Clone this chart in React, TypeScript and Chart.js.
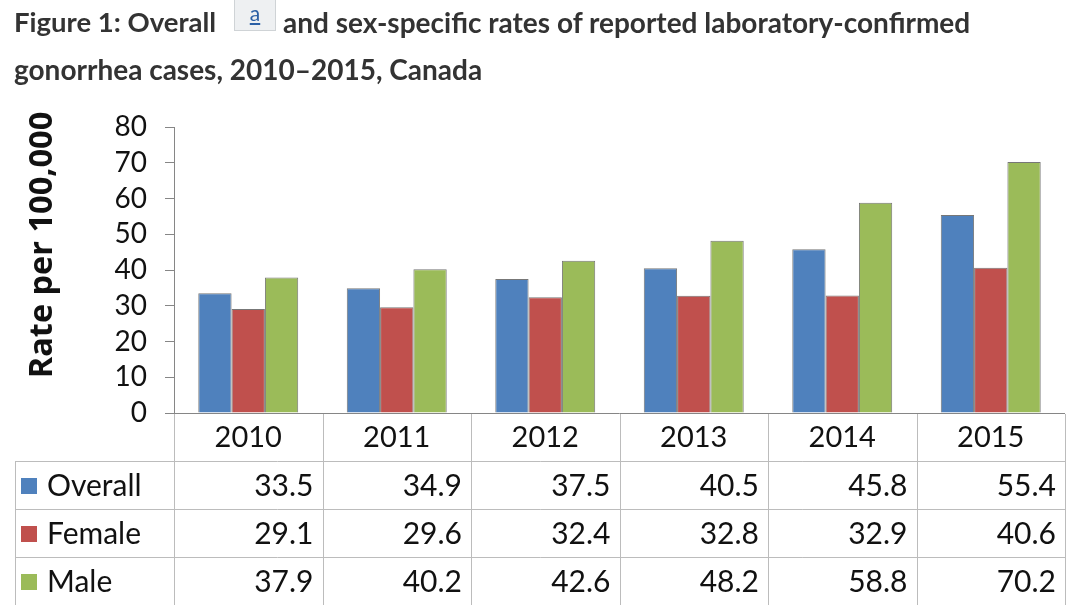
import React, { useEffect, useRef } from "react";
import { Chart, registerables } from "chart.js";

Chart.register(...registerables);

// ---- data ----
const years = ["2010", "2011", "2012", "2013", "2014", "2015"];
const overall = [33.5, 34.9, 37.5, 40.5, 45.8, 55.4];
const female = [29.1, 29.6, 32.4, 32.8, 32.9, 40.6];
const male = [37.9, 40.2, 42.6, 48.2, 58.8, 70.2];
const seriesNames = ["Overall", "Female", "Male"];
const seriesColors = ["#4F81BD", "#C0504D", "#9BBB59"];
const yAxisTitle = "Rate per 100,000";
const yMin = 0;
const yMax = 80;
const yStep = 10;

const TEXT = "#111";
const CHART_FONT = "Lato";

const tablePlugin = {
  id: "dataTable",
  afterDraw(chart: any) {
    const ctx = chart.ctx as CanvasRenderingContext2D;
    const xs = chart.scales.x;
    const area = chart.chartArea;
    const n = years.length;
    const catW = xs.getPixelForValue(1) - xs.getPixelForValue(0);
    const top = area.bottom;
    const rowH = 48;
    const tableLeft = 15;
    const rows = [overall, female, male];
    const tableBottom = top + rowH * (rows.length + 1);

    ctx.save();
    // x axis line
    ctx.strokeStyle = "#868686";
    ctx.lineWidth = 1;
    ctx.beginPath();
    ctx.moveTo(area.left, Math.round(top) + 0.5);
    ctx.lineTo(area.right, Math.round(top) + 0.5);
    ctx.stroke();

    // table lines
    ctx.strokeStyle = "#bcbcbc";
    ctx.beginPath();
    for (let i = 0; i <= n; i++) {
      const bx = Math.round(xs.getPixelForValue(0) - catW / 2 + i * catW) + 0.5;
      ctx.moveTo(bx, Math.round(top) + 1);
      ctx.lineTo(bx, tableBottom);
    }
    for (let r = 1; r <= rows.length; r++) {
      const yy = Math.round(top + r * rowH) + 0.5;
      ctx.moveTo(tableLeft, yy);
      ctx.lineTo(area.right + 0.5, yy);
    }
    ctx.moveTo(tableLeft + 0.5, Math.round(top + rowH));
    ctx.lineTo(tableLeft + 0.5, tableBottom);
    ctx.stroke();

    // header labels
    ctx.fillStyle = TEXT;
    ctx.font = `29px ${CHART_FONT}`;
    ctx.textBaseline = "middle";
    ctx.textAlign = "center";
    for (let i = 0; i < n; i++) {
      ctx.fillText(years[i], xs.getPixelForValue(i), top + rowH / 2 + 1);
    }

    // rows
    ctx.font = `30px ${CHART_FONT}`;
    for (let r = 0; r < rows.length; r++) {
      const cy = top + rowH * (r + 1) + rowH / 2 + 1;
      ctx.fillStyle = seriesColors[r];
      ctx.fillRect(21, Math.round(cy - 8), 16, 16);
      ctx.fillStyle = TEXT;
      ctx.textAlign = "left";
      ctx.fillText(seriesNames[r], 47, cy);
      ctx.textAlign = "right";
      for (let i = 0; i < n; i++) {
        const right = xs.getPixelForValue(i) + catW / 2 - 9;
        ctx.fillText(rows[r][i].toFixed(1), right, cy);
      }
    }

    // y axis title
    ctx.save();
    ctx.translate(43, 245);
    ctx.rotate(-Math.PI / 2);
    ctx.font = `bold 32.5px 'Open Sans'`;
    ctx.textAlign = "center";
    ctx.textBaseline = "middle";
    ctx.fillStyle = TEXT;
    ctx.fillText(yAxisTitle, 0, 0);
    ctx.restore();

    ctx.restore();
  },
};

export default function App() {
  const ref = useRef<HTMLCanvasElement | null>(null);

  useEffect(() => {
    if (!ref.current) return;
    const chart = new Chart(ref.current, {
      type: "bar",
      data: {
        labels: years,
        datasets: [overall, female, male].map((d, i) => ({
          label: seriesNames[i],
          data: d,
          backgroundColor: seriesColors[i],
          borderColor: "#777",
          borderWidth: 1,
          categoryPercentage: 0.673,
          barPercentage: 1,
        })),
      },
      options: {
        animation: false,
        responsive: false,
        devicePixelRatio: 1,
        layout: { padding: { top: 127, bottom: 196, left: 0, right: 15 } },
        plugins: {
          legend: { display: false },
          tooltip: { enabled: false },
          title: { display: false },
        },
        scales: {
          x: { display: false },
          y: {
            min: yMin,
            max: yMax,
            ticks: {
              stepSize: yStep,
              autoSkip: false,
              padding: 18,
              color: TEXT,
              font: { family: CHART_FONT, size: 28 },
            },
            grid: {
              drawOnChartArea: false,
              drawTicks: true,
              tickLength: 9,
              color: "#868686",
            },
            border: { display: true, color: "#868686", width: 1 },
            afterFit: (scale: any) => {
              scale.width = 174;
            },
          },
        },
      },
      plugins: [tablePlugin],
    });
    return () => chart.destroy();
  }, []);

  const titleStyle: React.CSSProperties = {
    position: "absolute",
    fontFamily: "Lato",
    fontWeight: 700,
    fontSize: 28,
    lineHeight: "28px",
    color: "#333",
    whiteSpace: "nowrap",
  };

  return (
    <div
      style={{
        position: "fixed",
        left: 0,
        top: 0,
        width: 1080,
        height: 609,
        background: "#fff",
        overflow: "hidden",
      }}
    >
      <canvas
        ref={ref}
        width={1080}
        height={609}
        style={{ position: "absolute", left: 0, top: 0, width: 1080, height: 609 }}
      />
      <div style={{ ...titleStyle, fontSize: 27.5, left: 14, top: 8 }}>Figure 1: Overall</div>
      <div
        style={{
          position: "absolute",
          left: 234,
          top: -1,
          width: 42,
          height: 32,
          boxSizing: "border-box",
          background: "#eef0f2",
          border: "1px solid #cfd3d6",
          textAlign: "center",
          fontFamily: "Lato",
          fontSize: 21,
          lineHeight: "26px",
          color: "#2b5fa5",
          textDecoration: "underline",
        }}
      >
        a
      </div>
      <div style={{ ...titleStyle, left: 283, top: 8 }}>
        and sex-specific rates of reported laboratory-confirmed
      </div>
      <div style={{ ...titleStyle, left: 14, top: 55 }}>gonorrhea cases, 2010–2015, Canada</div>
    </div>
  );
}
